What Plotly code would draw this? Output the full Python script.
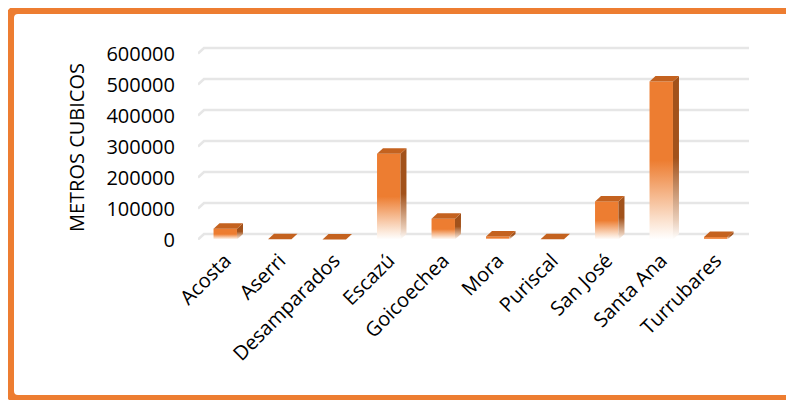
import plotly.graph_objects as go

# ---- data ----
categories = ["Acosta", "Aserri", "Desamparados", "Escazú", "Goicoechea",
              "Mora", "Puriscal", "San José", "Santa Ana", "Turrubares"]
values = [35000, 1000, 500, 277000, 67000, 10000, 1000, 123000, 510000, 8000]
y_ticks = [0, 100000, 200000, 300000, 400000, 500000, 600000]
y_tick_labels = ["0", "100000", "200000", "300000", "400000", "500000", "600000"]
axis_title = "METROS CUBICOS"

# ---- layout geometry (page body has an 8px margin) ----
OFF = 8
W, H = 786, 392
ML, MR, MT, MB = 190, 45, 38, 160
PW, PH = W - ML - MR, H - MT - MB
UNIT = 54.5                      # px per category
PXV = 31 / 100000                # px per value unit
DX = 6 / UNIT                    # 3D depth (categories)
DY = 5.5 / PXV                   # 3D depth (values)
Y0 = -1500
yrange = [Y0, Y0 + PH / PXV]
xrange = [-0.5, -0.5 + PW / UNIT]
BW = 0.43

ORANGE = "#ED7D31"
SIDE = "#A2521B"
TOP = "#C4621F"
FONT = "Open Sans"

fig = go.Figure()

# back-wall gridlines (with small slanted side-wall edge)
gx, gy = [], []
for v in y_ticks:
    gx += [-0.5, -0.5 + DX, xrange[1], None]
    gy += [v, v + DY, v + DY, None]
fig.add_trace(go.Scatter(x=gx, y=gy, mode="lines",
                         line=dict(color="#E6E6E6", width=2.5),
                         hoverinfo="skip", showlegend=False))

front_cs = [[0, "#FFFFFF"], [0.12, "#FBE2CF"], [0.5, ORANGE], [1, ORANGE]]
side_cs = [[0, "#FFFFFF"], [0.12, "#E9CDB8"], [0.5, SIDE], [1, SIDE]]

for i, v in enumerate(values):
    l, r = i - BW / 2, i + BW / 2
    # front face
    fig.add_trace(go.Scatter(x=[l, r, r, l, l], y=[0, 0, v, v, 0], mode="lines",
                             fill="toself", line=dict(width=0),
                             fillgradient=dict(type="vertical", colorscale=front_cs),
                             hoverinfo="skip", showlegend=False))
    # side face
    fig.add_trace(go.Scatter(x=[r, r + DX, r + DX, r, r], y=[0, DY, v + DY, v, 0],
                             mode="lines", fill="toself", line=dict(width=0),
                             fillgradient=dict(type="vertical", colorscale=side_cs),
                             hoverinfo="skip", showlegend=False))
    # top face
    fig.add_trace(go.Scatter(x=[l, r, r + DX, l + DX, l], y=[v, v, v + DY, v + DY, v],
                             mode="lines", fill="toself", line=dict(width=0),
                             fillcolor=TOP, hoverinfo="skip", showlegend=False))


def xp(px):
    """screen px -> paper x"""
    return (px - OFF - ML) / PW


def yp(py):
    """screen px -> paper y"""
    return (H - MB - (py - OFF)) / PH


border = (f"M {xp(830)},{yp(399)} L {xp(18)},{yp(399)} Q {xp(10)},{yp(399)} {xp(10)},{yp(391)} "
          f"L {xp(10)},{yp(18)} Q {xp(10)},{yp(10)} {xp(18)},{yp(10)} L {xp(830)},{yp(10)}")

fig.update_layout(
    width=W, height=H,
    margin=dict(l=ML, r=MR, t=MT, b=MB, pad=0),
    paper_bgcolor="white", plot_bgcolor="rgba(0,0,0,0)",
    font=dict(family=FONT, size=20, color="black"),
    showlegend=False,
    xaxis=dict(range=xrange, tickvals=list(range(len(categories))), ticktext=categories,
               tickangle=-45, showgrid=False, zeroline=False, showline=False,
               ticks="", ticklabelstandoff=4, automargin=False,
               tickfont=dict(family=FONT, size=20, color="black")),
    yaxis=dict(range=yrange, tickvals=y_ticks, ticktext=y_tick_labels,
               showgrid=False, zeroline=False, showline=False, ticks="",
               ticklabelstandoff=22, automargin=False,
               tickfont=dict(family=FONT, size=20, color="black")),
    shapes=[dict(type="path", xref="paper", yref="paper", path=border,
                 line=dict(color=ORANGE, width=8))],
    annotations=[dict(text=axis_title, xref="paper", yref="paper",
                      x=xp(76), y=yp(148), xanchor="center", yanchor="middle",
                      textangle=-90, showarrow=False,
                      font=dict(family=FONT, size=20, color="black"))],
)

fig.write_html("out.html")
